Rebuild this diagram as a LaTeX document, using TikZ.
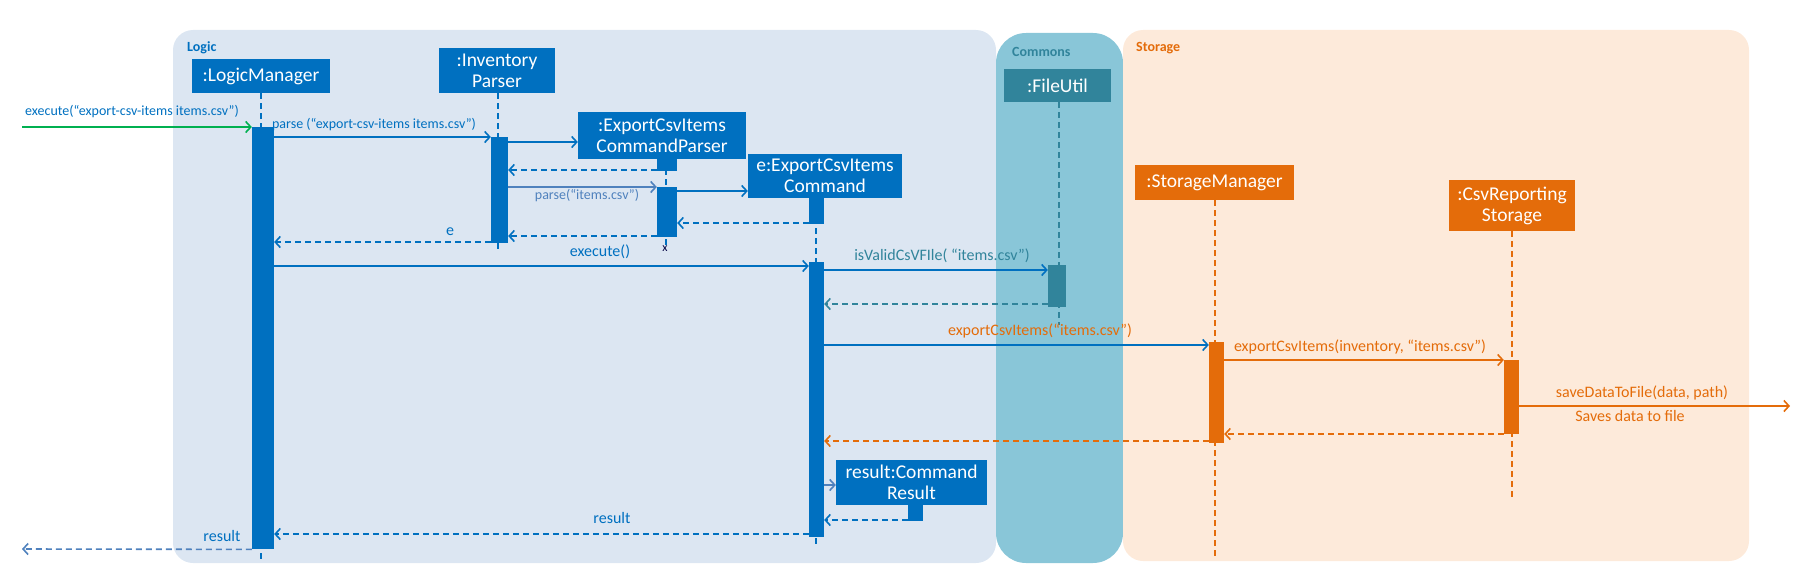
\documentclass[tikz,border=0pt]{standalone}
\usepackage{fontspec}
\setmainfont{Carlito}
\usetikzlibrary{arrows.meta,calc}
\definecolor{cblue}{HTML}{0070C0}
\definecolor{lblue}{HTML}{4F81BD}
\definecolor{logicbg}{HTML}{DCE6F2}
\definecolor{combg}{HTML}{89C6D8}
\definecolor{cteal}{HTML}{31849B}
\definecolor{storbg}{HTML}{FDEADA}
\definecolor{corange}{HTML}{E46C0A}
\definecolor{cgreen}{HTML}{00B050}
\tikzset{
  objbox/.style={fill=#1, text=white, font=\fontsize{19.5}{21}\selectfont, align=center, inner sep=0pt},
  actbar/.style={fill=#1, inner sep=0pt, anchor=north, draw=none},
  msg/.style={draw=#1, line width=1.6pt, -{Straight Barb[length=5pt,width=11pt,line width=1.6pt]}},
  ret/.style={msg=#1, dash pattern=on 6pt off 4pt},
  life/.style={draw=#1, line width=1.6pt, dash pattern=on 6pt off 4pt},
  lbl/.style={text=#1, font=\fontsize{16}{18}\selectfont, inner sep=0pt},
  slbl/.style={text=#1, font=\fontsize{14}{16}\selectfont, inner sep=0pt},
  panellbl/.style={text=#1, font=\fontsize{14}{16}\selectfont\bfseries, inner sep=0pt, anchor=west},
}
\begin{document}
\begin{tikzpicture}[x=1pt,y=-1pt]
\useasboundingbox (0,0) rectangle (1799,586);
% panels
\fill[logicbg, rounded corners=20pt] (173,30) rectangle (996,563);
\fill[combg, rounded corners=30pt] (996,33) rectangle (1123,563);
\fill[storbg, rounded corners=20pt] (1123,30) rectangle (1749,561);
\node[panellbl=cblue] (plogic) at (187,48) {Logic};
\node[panellbl=cteal] (pcom) at (1012,52) {Commons};
\node[panellbl=corange] (pstor) at (1136,48) {Storage};
% object boxes
\node[objbox=cblue, minimum width=138pt, minimum height=34pt] (lm) at (261,76) {:LogicManager};
\node[objbox=cblue, minimum width=116pt, minimum height=45pt] (ip) at (497,70.5) {:Inventory\\Parser};
\node[objbox=cblue, minimum width=168pt, minimum height=47pt] (cp) at (662,135.5) {:ExportCsvItems\\CommandParser};
\node[objbox=cblue, minimum width=154pt, minimum height=44pt] (ec) at (825,176) {e:ExportCsvItems\\Command};
\node[objbox=cteal, minimum width=107pt, minimum height=33pt] (fu) at (1057.5,85.5) {:FileUtil};
\node[objbox=corange, minimum width=159pt, minimum height=35pt] (sm) at (1214.5,182.5) {:StorageManager};
\node[objbox=corange, minimum width=126pt, minimum height=51pt] (cs) at (1512,205.5) {:CsvReporting\\Storage};
\node[objbox=cblue, minimum width=151pt, minimum height=45pt] (cr) at (911.5,482.5) {result:Command\\Result};
% lifeline ends
\coordinate (lmE) at (261,563);
\coordinate (ipE) at (498,252);
\coordinate (cpE) at (666,245);
\coordinate (ecE) at (816,548);
\coordinate (fuE) at (1059,325);
\coordinate (smE) at (1215,557);
\coordinate (csE) at (1512,498);
% lifelines
\draw[life=cblue] (lm.south -| lmE) -- (lmE);
\draw[life=cblue] (ip.south -| ipE) -- (ipE);
\draw[life=cblue] (cp.south -| cpE) -- (cpE);
\draw[life=cblue] (ec.south -| ecE) -- (ecE);
\draw[life=cteal] (fu.south -| fuE) -- (fuE);
\draw[life=corange] (sm.south -| smE) -- (smE);
\draw[life=corange] (cs.south -| csE) -- (csE);
\node[text=black!75!blue, font=\fontsize{12}{13}\selectfont, inner sep=0pt] (cpX) at (665,249) {x};
% activations
\node[actbar=cblue, minimum width=22pt, minimum height=422pt] (lmA) at (263,127) {};
\node[actbar=cblue, minimum width=17pt, minimum height=106pt] (ipA) at (499.5,137) {};
\node[actbar=cblue, minimum width=20pt, minimum height=12pt] (cpA1) at (667,159) {};
\node[actbar=cblue, minimum width=20pt, minimum height=50pt] (cpA2) at (667,187) {};
\node[actbar=cblue, minimum width=15pt, minimum height=26pt] (ecA1) at (816.5,198) {};
\node[actbar=cblue, minimum width=15pt, minimum height=275pt] (ecA2) at (816.5,262) {};
\node[actbar=cteal, minimum width=18pt, minimum height=42pt] (fuA) at (1057,265) {};
\node[actbar=corange, minimum width=15pt, minimum height=101pt] (smA) at (1216.5,342) {};
\node[actbar=corange, minimum width=15pt, minimum height=74pt] (csA) at (1511.5,360) {};
\node[actbar=cblue, minimum width=15pt, minimum height=16pt] (crA) at (915.5,505) {};
% free ends
\coordinate (inS) at (22,127);
\coordinate (outE) at (22,549);
\coordinate (saveE) at (1790,406);
% messages
\draw[msg=cgreen] (inS) -- (inS -| lmA.west);
\draw[msg=cblue] (lmA.east |- ipA.north) -- (ipA.north west);
\draw[msg=cblue] (ipA.east |- 0,142) -- (cp.west |- 0,142);
\draw[ret=cblue] (cpA1.west |- 0,170) -- (ipA.east |- 0,170);
\draw[msg=lblue] (ipA.east |- cpA2.north) -- (cpA2.north west);
\draw[msg=cblue] (cpA2.east |- 0,191) -- (ec.west |- 0,191);
\draw[ret=cblue] (ecA1.west |- 0,223) -- (cpA2.east |- 0,223);
\draw[ret=cblue] (cpA2.west |- 0,236) -- (ipA.east |- 0,236);
\draw[ret=cblue] (ipA.west |- 0,242) -- (lmA.east |- 0,242);
\draw[msg=cblue] (lmA.east |- 0,266) -- (ecA2.west |- 0,266);
\draw[msg=cblue] (ecA2.east |- 0,270) -- (fuA.west |- 0,270);
\draw[ret=cteal] (fuA.west |- 0,304) -- (ecA2.east |- 0,304);
\draw[msg=cblue] (ecA2.east |- 0,345) -- (smA.west |- 0,345);
\draw[msg=corange] (smA.east |- csA.north) -- (csA.north west);
\draw[msg=corange] (csA.east |- saveE) -- (saveE);
\draw[ret=corange] (csA.west |- 0,434) -- (smA.east |- 0,434);
\draw[ret=corange] (smA.west |- 0,441) -- (ecA2.east |- 0,441);
\draw[msg=lblue] (ecA2.east |- 0,485) -- (cr.west |- 0,485);
\draw[ret=cblue] (crA.west |- 0,520) -- (ecA2.east |- 0,520);
\draw[ret=cblue] (ecA2.west |- 0,534) -- (lmA.east |- 0,534);
\draw[ret=lblue] (lmA.south west) -- (outE);
% message labels
\node[slbl=cblue] (t1) at (132,112) {execute(“export-csv-items items.csv”)};
\node[slbl=cblue] (t2) at (374,125) {parse (“export-csv-items items.csv”)};
\node[slbl=lblue] (t3) at (587,196) {parse(“items.csv”)};
\node[lbl=cblue] (t4) at (450,232) {e};
\node[lbl=cblue] (t5) at (600,252) {execute()};
\node[lbl=cteal] (t6) at (942,256) {isValidCsVFIle( “items.csv”)};
\node[lbl=corange] (t7) at (1040,331) {exportCsvItems(“items.csv”)};
\node[lbl=corange] (t8) at (1360,347) {exportCsvItems(inventory, “items.csv”)};
\node[lbl=corange] (t9) at (1642,393) {saveDataToFile(data, path)};
\node[lbl=corange] (t10) at (1630,416) {Saves data to file};
\node[lbl=cblue] (t11) at (612,518) {result};
\node[lbl=cblue] (t12) at (222,536) {result};
\end{tikzpicture}
\end{document}
